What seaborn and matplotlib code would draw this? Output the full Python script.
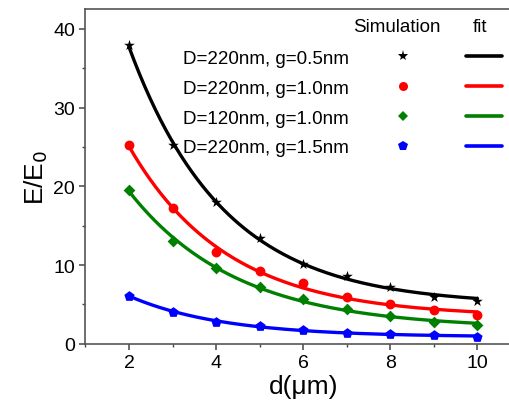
import numpy as np
import pandas as pd
import matplotlib
matplotlib.use("Agg")
import matplotlib.pyplot as plt
from matplotlib.lines import Line2D
from matplotlib.ticker import MultipleLocator
import seaborn as sns

# Separation d (um) and simulated field enhancement E/E0 for each geometry
d_um = [2, 3, 4, 5, 6, 7, 8, 9, 10]
labels = ["D=220nm, g=0.5nm", "D=220nm, g=1.0nm", "D=120nm, g=1.0nm", "D=220nm, g=1.5nm"]
e_d220_g05 = [37.9, 25.2, 18.0, 13.4, 10.2, 8.6, 7.2, 6.0, 5.5]
e_d220_g10 = [25.2, 17.3, 11.7, 9.2, 7.7, 6.0, 5.1, 4.3, 3.6]
e_d120_g10 = [19.6, 13.1, 9.6, 7.2, 5.7, 4.4, 3.5, 2.8, 2.4]
e_d220_g15 = [6.1, 4.1, 2.8, 2.3, 1.7, 1.4, 1.2, 1.1, 0.9]
series = [e_d220_g05, e_d220_g10, e_d120_g10, e_d220_g15]
colors = ["black", "#ff0000", "#008000", "#0000ff"]
markers = ["*", "o", "D", "p"]
msizes = [65, 50, 36, 60]
leg_msizes = [8, 6.5, 5.5, 7.5]


def fit_expdec(x, y):
    """Least-squares fit of y = y0 + A*exp(-x/t), scanning t."""
    x = np.asarray(x, float)
    y = np.asarray(y, float)
    best = None
    for t in np.linspace(0.3, 20, 2000):
        M = np.column_stack([np.ones_like(x), np.exp(-x / t)])
        coef, *_ = np.linalg.lstsq(M, y, rcond=None)
        err = np.sum((M @ coef - y) ** 2)
        if best is None or err < best[0]:
            best = (err, coef, t)
    _, (y0, a), t = best
    return lambda xx: y0 + a * np.exp(-np.asarray(xx) / t)


sns.set_theme(style="ticks")
plt.rcParams["font.family"] = ["Liberation Sans", "DejaVu Sans"]
plt.rcParams["text.color"] = "black"
plt.rcParams["axes.labelcolor"] = "black"
plt.rcParams["xtick.color"] = "black"
plt.rcParams["ytick.color"] = "black"

fig = plt.figure(figsize=(5.1, 4.1), dpi=100)
ax = fig.add_axes([0.1676, 0.159, 0.854, 0.816])

xs = np.linspace(min(d_um), max(d_um), 200)
rows = []
fits = []
for lab, ys in zip(labels, series):
    for xv, yv in zip(d_um, ys):
        rows.append({"d": xv, "E": yv, "case": lab})
    f = fit_expdec(d_um, ys)
    for xv in xs:
        fits.append({"d": xv, "E": float(f(xv)), "case": lab})
df = pd.DataFrame(rows)
df_fit = pd.DataFrame(fits)
pal = dict(zip(labels, colors))

sns.lineplot(data=df_fit, x="d", y="E", hue="case", palette=pal, linewidth=2.4,
             legend=False, ax=ax, zorder=2)
for lab, m, s in zip(labels, markers, msizes):
    sns.scatterplot(data=df[df["case"] == lab], x="d", y="E", color=pal[lab],
                    marker=m, s=s, linewidth=0, legend=False, ax=ax, zorder=3)

ax.set_xlim(1, 11)
ax.set_ylim(0, 42.5)
ax.xaxis.set_major_locator(MultipleLocator(2))
ax.xaxis.set_minor_locator(MultipleLocator(1))
ax.yaxis.set_major_locator(MultipleLocator(10))
ax.yaxis.set_minor_locator(MultipleLocator(5))
ax.tick_params(which="major", direction="out", length=4.5, width=1.1, labelsize=14,
               color="#444444", labelcolor="black", pad=3)
ax.tick_params(which="minor", direction="out", length=2.5, width=1.0, color="#444444")
for sp in ax.spines.values():
    sp.set_color("#555555")
    sp.set_linewidth(1.2)
ax.set_xlabel("d(\u03bcm)", fontsize=19, labelpad=2)
ax.set_ylabel("E/E$_0$", fontsize=19, labelpad=2)

# Legend laid out as a small table: label, simulated marker, fit line
sim_handles = [Line2D([], [], linestyle="none", marker=m, color=c,
                      markersize=ms, markeredgewidth=0)
               for m, c, ms in zip(markers, colors, leg_msizes)]
fit_handles = [Line2D([], [], color=c, linewidth=2.6) for c in colors]
leg1 = ax.legend(sim_handles, labels, loc="upper left", bbox_to_anchor=(0.224, 0.879),
                 frameon=False, markerfirst=False, fontsize=13.5, handlelength=1.0,
                 handletextpad=2.38, labelspacing=0.68, borderpad=0, borderaxespad=0)
ax.add_artist(leg1)
ax.legend(fit_handles, [""] * 4, loc="upper left", bbox_to_anchor=(0.874, 0.879),
          frameon=False, fontsize=13.5, handlelength=1.92, handletextpad=0,
          labelspacing=0.68, borderpad=0, borderaxespad=0)
ax.text(0.715, 0.947, "Simulation", transform=ax.transAxes, ha="center", va="center",
        fontsize=13.5)
ax.text(0.906, 0.947, "fit", transform=ax.transAxes, ha="center", va="center",
        fontsize=13.5)

fig.savefig("out.png", dpi=100)
